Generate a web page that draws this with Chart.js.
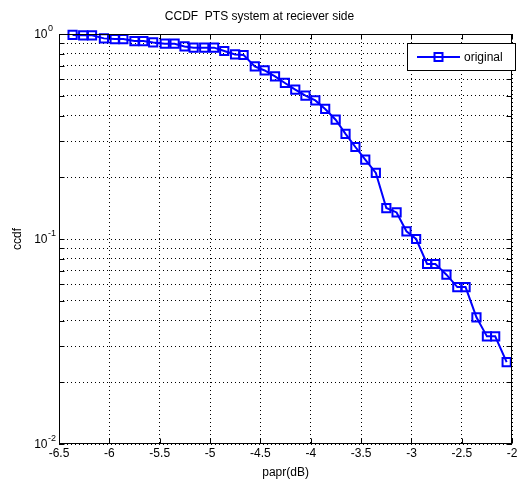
<!DOCTYPE html>
<html>
<head>
<meta charset="utf-8">
<script src="https://cdn.jsdelivr.net/npm/chart.js@4.4.1/dist/chart.umd.min.js"></script>
<style>
  html, body { margin: 0; padding: 0; background: #fff; }
  #wrap { width: 520px; height: 490px; }
</style>
</head>
<body>
<div id="wrap"><canvas id="ccdfChart" width="520" height="490"></canvas></div>
<script>
// values
const paprDb = [
  -6.365, -6.26, -6.172, -6.054, -5.947, -5.861, -5.751, -5.663, -5.565, -5.45,
  -5.352, -5.254, -5.163, -5.058, -4.96, -4.859, -4.752, -4.667, -4.556, -4.458,
  -4.355, -4.257, -4.154, -4.053, -3.955, -3.857, -3.753, -3.655, -3.557, -3.459,
  -3.354, -3.25, -3.148, -3.05, -2.954, -2.845, -2.763, -2.653, -2.545, -2.463,
  -2.355, -2.251, -2.169, -2.055
];
const ccdfOriginal = [
  0.99, 0.985, 0.985, 0.952, 0.945, 0.945, 0.924, 0.924, 0.91, 0.897,
  0.897, 0.87, 0.858, 0.858, 0.858, 0.826, 0.795, 0.79, 0.695, 0.664,
  0.621, 0.577, 0.535, 0.5, 0.474, 0.431, 0.382, 0.326, 0.281, 0.244,
  0.21, 0.1416, 0.1348, 0.109, 0.1, 0.0755, 0.0755, 0.067, 0.0583, 0.0583,
  0.0415, 0.0335, 0.0335, 0.0251
];
const xTicks = [-6.5, -6, -5.5, -5, -4.5, -4, -3.5, -3, -2.5, -2];
const yTicks = [
  0.01, 0.02, 0.03, 0.04, 0.05, 0.06, 0.07, 0.08, 0.09,
  0.1, 0.2, 0.3, 0.4, 0.5, 0.6, 0.7, 0.8, 0.9, 1
];
const yMajor = [0.01, 0.1, 1];

const FONT = "'Liberation Sans', Arial, Helvetica, sans-serif";
const BLUE = '#0000ff';
Chart.defaults.font.family = FONT;
Chart.defaults.font.size = 12;
Chart.defaults.color = '#000';

// matlab look: full box, inward ticks, 10^n labels, boxed legend
const matlabAxes = {
  id: 'matlabAxes',
  afterDraw(chart) {
    const ctx = chart.ctx;
    const a = chart.chartArea;
    const xs = chart.scales.x, ys = chart.scales.y;
    const L = Math.round(a.left) + 0.5, R = Math.round(a.right) - 0.5;
    const T = Math.round(a.top) + 0.5, B = Math.round(a.bottom) - 0.5;
    ctx.save();
    ctx.strokeStyle = '#000';
    ctx.lineWidth = 1;
    ctx.strokeRect(L, T, R - L, B - T);

    ctx.beginPath();
    xTicks.forEach(v => {
      const px = Math.round(xs.getPixelForValue(v)) + 0.5;
      ctx.moveTo(px, B); ctx.lineTo(px, B - 5);
      ctx.moveTo(px, T); ctx.lineTo(px, T + 5);
    });
    yTicks.forEach(v => {
      const py = Math.round(ys.getPixelForValue(v)) + 0.5;
      ctx.moveTo(L, py); ctx.lineTo(L + 5, py);
      ctx.moveTo(R, py); ctx.lineTo(R - 5, py);
    });
    ctx.stroke();

    // y labels as 10 with raised exponent
    ctx.fillStyle = '#000';
    yMajor.forEach(v => {
      const py = ys.getPixelForValue(v);
      const e = Math.round(Math.log10(v));
      ctx.font = '12px ' + FONT;
      ctx.textAlign = 'right';
      ctx.textBaseline = 'middle';
      ctx.fillText('10', 47.5, py + 1);
      ctx.font = '9px ' + FONT;
      ctx.textAlign = 'left';
      ctx.fillText(String(e), 48, py - 5);
    });

    // legend box
    const ds = chart.data.datasets[0];
    const bx = 407.5, by = 43.5, bw = 108, bh = 27;
    ctx.fillStyle = '#fff';
    ctx.fillRect(bx, by, bw, bh);
    ctx.strokeStyle = '#000';
    ctx.strokeRect(bx, by, bw, bh);
    const ly = by + bh / 2;
    ctx.strokeStyle = BLUE;
    ctx.lineWidth = 2;
    ctx.beginPath();
    ctx.moveTo(417, ly); ctx.lineTo(460, ly);
    ctx.stroke();
    ctx.strokeRect(434.5, ly - 4, 8, 8);
    ctx.fillStyle = '#000';
    ctx.font = '12px ' + FONT;
    ctx.textAlign = 'left';
    ctx.textBaseline = 'middle';
    ctx.fillText(ds.label, 464, ly + 1);
    ctx.restore();
  }
};

new Chart(document.getElementById('ccdfChart'), {
  type: 'line',
  data: {
    datasets: [{
      label: 'original',
      data: paprDb.map((x, i) => ({ x: x, y: ccdfOriginal[i] })),
      borderColor: BLUE,
      borderWidth: 2,
      pointStyle: 'rect',
      pointRadius: 5.8,
      pointBorderWidth: 2,
      pointBorderColor: BLUE,
      pointBackgroundColor: 'rgba(0,0,0,0)',
      tension: 0,
      clip: false
    }]
  },
  options: {
    responsive: false,
    animation: false,
    layout: { padding: { left: 0, right: 1, top: 0, bottom: 0 } },
    plugins: {
      legend: { display: false },
      tooltip: { enabled: false },
      title: {
        display: true,
        text: 'CCDF  PTS system at reciever side',
        font: { size: 12, weight: 'normal' },
        color: '#000',
        padding: { top: 9, bottom: 10.6 }
      }
    },
    scales: {
      x: {
        type: 'linear',
        position: 'bottom',
        min: -6.5,
        max: -2,
        afterBuildTicks: s => { s.ticks = xTicks.map(v => ({ value: v })); },
        afterFit: s => { s.height = 46; s.paddingLeft = 0; s.paddingRight = 0; },
        ticks: {
          color: '#000', padding: 2, maxRotation: 0, autoSkip: false,
          callback: v => String(v)
        },
        grid: { color: '#000', lineWidth: 1, drawTicks: false },
        border: { display: false, dash: [1, 3] },
        title: { display: true, text: 'papr(dB)', color: '#000', padding: { top: 4, bottom: 10 } }
      },
      y: {
        type: 'logarithmic',
        min: 0.01,
        max: 1,
        afterBuildTicks: s => { s.ticks = yTicks.map(v => ({ value: v })); },
        afterFit: s => { s.width = 59; s.paddingTop = 0; s.paddingBottom = 0; },
        ticks: { display: false },
        grid: { color: '#000', lineWidth: 1, drawTicks: false },
        border: { display: false, dash: [1, 3] },
        title: { display: true, text: 'ccdf', color: '#000', padding: { top: 10, bottom: 0 } }
      }
    }
  },
  plugins: [matlabAxes]
});
</script>
</body>
</html>
